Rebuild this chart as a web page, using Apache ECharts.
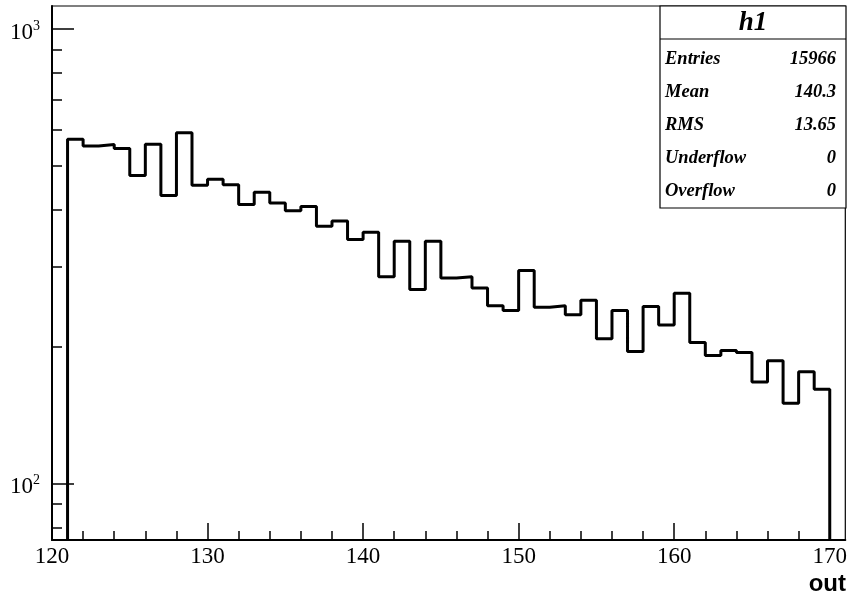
<!DOCTYPE html>
<html>
<head>
<meta charset="utf-8">
<script src="https://cdn.jsdelivr.net/npm/echarts@6/dist/echarts.min.js"></script>
<style>
  html, body { margin: 0; padding: 0; background: #fff; }
  #main { width: 850px; height: 597px; }
</style>
</head>
<body>
<div id="main"></div>
<script>
// histogram h1, bins of width 1 starting at 121
var firstEdge = 121
var counts = [
  572, 553, 557, 546, 476, 558, 430, 591, 453, 467,
  454, 411, 437, 414, 398, 407, 368, 378, 344, 357,
  285, 341, 267, 341, 283, 285, 269, 246, 240, 294,
  244, 246, 235, 253, 208, 240, 195, 245, 223, 262,
  204, 191, 196, 194, 167, 186, 150, 176, 161
]
var xMajorTicks = [120, 130, 140, 150, 160, 170]
var xMinorTicks = [122, 124, 126, 128, 132, 134, 136, 138, 142, 144, 146, 148,
                   152, 154, 156, 158, 162, 164, 166, 168]
var yMajorTicks = [100, 1000]
var yMinorTicks = [80, 90, 200, 300, 400, 500, 600, 700, 800, 900]
var statLabels = ['Entries', 'Mean', 'RMS', 'Underflow', 'Overflow']
var statValues = ['15966', '140.3', '13.65', '0', '0']

var xMin = 120, xMax = 171
var yMin = 75, yMax = 1124

// step outline: floor -> bin tops -> floor
var stepData = [[firstEdge, yMin]]
for (var i = 0; i < counts.length; i++) {
    stepData.push([firstEdge + i, counts[i]])
}
stepData.push([firstEdge + counts.length, counts[counts.length - 1]])
stepData.push([firstEdge + counts.length, yMin])

var chart = echarts.init(document.getElementById('main'))
var serif = 'Liberation Serif'

var statsChildren = [
    { type: 'rect', shape: { x: 660, y: 6, width: 186, height: 202 },
      style: { fill: '#fff', stroke: '#000', lineWidth: 1.2 } },
    { type: 'line', shape: { x1: 660, y1: 39, x2: 846, y2: 39 },
      style: { stroke: '#000', lineWidth: 1.2 } },
    { type: 'text', x: 753, y: 23,
      style: { text: 'h1', font: 'italic bold 27px "Liberation Serif"', fill: '#000',
               align: 'center', verticalAlign: 'middle' } }
]
statLabels.forEach(function (name, k) {
    var y = 59.5 + k * 33
    statsChildren.push({ type: 'text', x: 665, y: y,
        style: { text: name, font: 'italic bold 18.5px "Liberation Serif"', fill: '#000',
                 align: 'left', verticalAlign: 'middle' } })
    statsChildren.push({ type: 'text', x: 836, y: y,
        style: { text: statValues[k], font: 'italic bold 18.5px "Liberation Serif"', fill: '#000',
                 align: 'right', verticalAlign: 'middle' } })
})

var option = {
    animation: false,
    grid: {
        left: 52, right: 3, top: 6, bottom: 57,
        show: true, borderColor: '#000', borderWidth: 1.2
    },
    xAxis: [{
        type: 'value', min: xMin, max: xMax,
        splitLine: { show: false },
        axisLine: { lineStyle: { color: '#000', width: 2 } },
        axisTick: { inside: true, length: 17, customValues: xMajorTicks,
                    lineStyle: { color: '#000', width: 1.5 } },
        axisLabel: { customValues: xMajorTicks, margin: 5, color: '#000',
                     fontFamily: serif, fontSize: 23 }
    }, {
        type: 'value', min: xMin, max: xMax, position: 'bottom',
        splitLine: { show: false },
        axisLine: { show: false },
        axisTick: { inside: true, length: 9, customValues: xMinorTicks,
                    lineStyle: { color: '#000', width: 1.5 } },
        axisLabel: { show: false }
    }],
    yAxis: [{
        type: 'log', logBase: 10, min: yMin, max: yMax,
        splitLine: { show: false },
        axisLine: { show: true, lineStyle: { color: '#000', width: 2 } },
        axisTick: { inside: true, length: 22, customValues: yMajorTicks,
                    lineStyle: { color: '#000', width: 1.5 } },
        axisLabel: {
            customValues: yMajorTicks, margin: 12, color: '#000',
            fontFamily: serif, fontSize: 23,
            formatter: function (v) {
                return '{b|10}{s|' + Math.round(Math.log10(v)) + '}'
            },
            rich: {
                b: { fontFamily: serif, fontSize: 23, color: '#000', padding: [8, 0, 0, 0] },
                s: { fontFamily: serif, fontSize: 14, color: '#000', padding: [0, 0, 6, 0] }
            }
        }
    }, {
        type: 'log', logBase: 10, min: yMin, max: yMax, position: 'left',
        splitLine: { show: false },
        axisLine: { show: false },
        axisTick: { inside: true, length: 10, customValues: yMinorTicks,
                    lineStyle: { color: '#000', width: 1.5 } },
        axisLabel: { show: false }
    }],
    graphic: [
        { type: 'group', children: statsChildren },
        { type: 'text', x: 846, y: 584,
          style: { text: 'out', font: 'bold 24px "Liberation Sans"', fill: '#000',
                   align: 'right', verticalAlign: 'middle' } }
    ],
    series: [{
        type: 'line',
        step: 'end',
        xAxisIndex: 0, yAxisIndex: 0,
        data: stepData,
        showSymbol: false,
        symbol: 'none',
        lineStyle: { color: '#000', width: 3 },
        clip: true
    }]
}
chart.setOption(option)
</script>
</body>
</html>
